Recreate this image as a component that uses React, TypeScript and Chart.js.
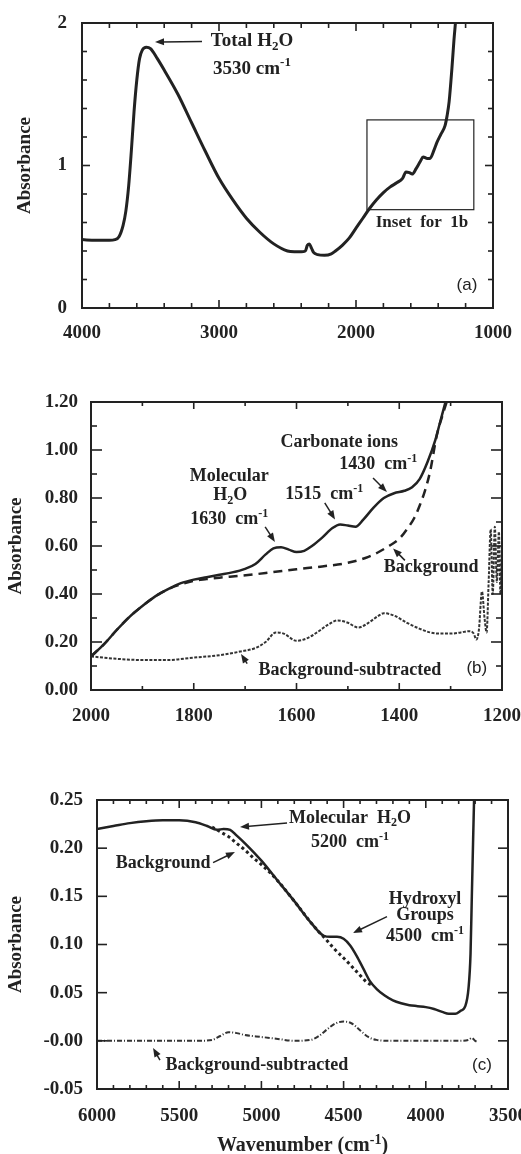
import React, { useEffect, useRef } from 'react';
import { Chart, registerables } from 'chart.js';

Chart.register(...registerables);

const SERIF = '"Liberation Serif", "Times New Roman", serif';
const SANS = '"Liberation Sans", Arial, sans-serif';
const INK = '#222222';

// ---------- Panel (a): full spectrum ----------
const aWavenumber = [4000, 3900, 3800, 3760, 3730, 3700, 3680, 3660, 3640, 3620, 3600, 3580, 3560, 3530, 3500, 3450, 3400, 3300, 3200, 3100, 3000, 2900, 2800, 2700, 2600, 2500, 2450, 2400, 2370, 2355, 2340, 2325, 2310, 2280, 2230, 2180, 2150, 2100, 2050, 2000, 1950, 1900, 1850, 1800, 1750, 1700, 1660, 1635, 1610, 1590, 1560, 1530, 1510, 1480, 1460, 1430, 1410, 1380, 1350, 1335, 1320, 1300, 1285, 1270, 1260];
const aAbsorbance = [0.48, 0.475, 0.475, 0.48, 0.50, 0.58, 0.68, 0.85, 1.10, 1.38, 1.60, 1.75, 1.81, 1.83, 1.82, 1.75, 1.67, 1.50, 1.30, 1.10, 0.91, 0.76, 0.63, 0.53, 0.45, 0.40, 0.395, 0.395, 0.40, 0.44, 0.45, 0.42, 0.39, 0.375, 0.37, 0.38, 0.40, 0.44, 0.49, 0.56, 0.63, 0.70, 0.76, 0.81, 0.85, 0.88, 0.91, 0.955, 0.95, 0.94, 0.98, 1.03, 1.06, 1.05, 1.05, 1.11, 1.16, 1.22, 1.28, 1.35, 1.45, 1.68, 1.88, 2.05, 2.2];
const aXTicks = [4000, 3000, 2000, 1000];
const aYTicks = [0, 1, 2];
const aYTickLabels = ['0', '1', '2'];

// ---------- Panel (b): 2000-1200 cm-1 inset ----------
const bWavenumber = [2000, 1975, 1950, 1925, 1900, 1875, 1850, 1825, 1800, 1775, 1750, 1725, 1700, 1680, 1660, 1645, 1630, 1615, 1600, 1585, 1570, 1550, 1530, 1515, 1500, 1485, 1470, 1450, 1430, 1410, 1390, 1375, 1360, 1345, 1330, 1320, 1310, 1300];
const bSample = [0.14, 0.19, 0.25, 0.305, 0.35, 0.39, 0.42, 0.445, 0.46, 0.47, 0.48, 0.49, 0.505, 0.525, 0.565, 0.59, 0.595, 0.585, 0.575, 0.58, 0.60, 0.635, 0.675, 0.69, 0.685, 0.68, 0.71, 0.76, 0.80, 0.82, 0.83, 0.845, 0.88, 0.95, 1.04, 1.12, 1.20, 1.28];
const bBackgroundWavenumber = [2000, 1975, 1950, 1925, 1900, 1875, 1850, 1825, 1800, 1775, 1750, 1720, 1690, 1650, 1600, 1550, 1500, 1460, 1440, 1420, 1400, 1385, 1370, 1360, 1350, 1340, 1327, 1315, 1305, 1298];
const bBackground = [0.14, 0.19, 0.25, 0.305, 0.35, 0.39, 0.42, 0.44, 0.455, 0.462, 0.468, 0.474, 0.48, 0.49, 0.503, 0.515, 0.53, 0.555, 0.575, 0.60, 0.63, 0.67, 0.72, 0.77, 0.83, 0.91, 1.06, 1.15, 1.22, 1.28];
const bSubtractedWavenumber = [2000, 1950, 1900, 1850, 1800, 1750, 1710, 1680, 1660, 1640, 1625, 1600, 1580, 1560, 1540, 1520, 1500, 1480, 1460, 1440, 1430, 1410, 1385, 1360, 1340, 1320, 1300, 1280, 1265, 1255, 1250, 1245, 1239, 1234, 1230, 1226, 1222, 1218, 1214, 1210, 1206, 1203, 1200];
const bSubtracted = [0.14, 0.13, 0.125, 0.125, 0.135, 0.145, 0.16, 0.175, 0.20, 0.24, 0.235, 0.205, 0.215, 0.24, 0.27, 0.29, 0.28, 0.26, 0.28, 0.31, 0.32, 0.31, 0.28, 0.255, 0.24, 0.235, 0.235, 0.24, 0.245, 0.235, 0.21, 0.25, 0.41, 0.30, 0.24, 0.45, 0.67, 0.40, 0.68, 0.45, 0.66, 0.40, 0.60];
const bXTicks = [2000, 1800, 1600, 1400, 1200];
const bYTicks = [0, 0.2, 0.4, 0.6, 0.8, 1.0, 1.2];
const bYTickLabels = ['0.00', '0.20', '0.40', '0.60', '0.80', '1.00', '1.20'];

// ---------- Panel (c): near-IR ----------
const cWavenumber = [6000, 5900, 5800, 5700, 5600, 5500, 5400, 5330, 5270, 5230, 5190, 5150, 5100, 5000, 4900, 4800, 4700, 4620, 4580, 4540, 4500, 4460, 4420, 4380, 4340, 4300, 4250, 4200, 4150, 4100, 4050, 4000, 3950, 3900, 3860, 3820, 3790, 3760, 3740, 3728, 3720, 3712, 3705];
const cSample = [0.22, 0.223, 0.226, 0.228, 0.229, 0.229, 0.227, 0.223, 0.219, 0.220, 0.219, 0.213, 0.205, 0.187, 0.166, 0.145, 0.123, 0.109, 0.108, 0.108, 0.106, 0.099, 0.088, 0.075, 0.062, 0.054, 0.047, 0.042, 0.039, 0.037, 0.036, 0.035, 0.033, 0.030, 0.028, 0.028, 0.031, 0.036, 0.055, 0.09, 0.15, 0.21, 0.26];
const cBackgroundWavenumber = [5300, 5250, 5200, 5150, 5100, 5050, 5000, 4950, 4900, 4800, 4700, 4650, 4600, 4560, 4500, 4460, 4400, 4360, 4320];
const cBackground = [0.222, 0.217, 0.212, 0.205, 0.198, 0.190, 0.183, 0.175, 0.166, 0.145, 0.123, 0.113, 0.104, 0.096, 0.086, 0.079, 0.068, 0.061, 0.057];
const cSubtractedWavenumber = [6000, 5800, 5600, 5400, 5300, 5250, 5200, 5150, 5100, 5000, 4900, 4800, 4700, 4650, 4600, 4550, 4500, 4450, 4400, 4350, 4300, 4200, 4000, 3800, 3740, 3720, 3700, 3680];
const cSubtracted = [0, 0, 0, 0, 0.001, 0.005, 0.009, 0.008, 0.006, 0.004, 0.002, 0.0, 0.001, 0.005, 0.012, 0.018, 0.020, 0.018, 0.011, 0.004, 0.001, 0, 0, 0, 0.001, 0.003, 0, -0.001];
const cXTicks = [6000, 5500, 5000, 4500, 4000, 3500];
const cYTicks = [-0.05, 0, 0.05, 0.1, 0.15, 0.2, 0.25];
const cYTickLabels = ['-0.05', '-0.00', '0.05', '0.10', '0.15', '0.20', '0.25'];

type Part = [string, 'n' | 'sub' | 'sup'];
type Note = { x: number; y: number; parts: Part[]; size: number; sans?: boolean };
type Arrow = [number, number, number, number];
type Series = { xs: number[]; ys: number[]; width: number; dash?: number[]; color?: string };
type TickSpec = { minor: number; minorLen: number; major: number; majorLen: number };
type PanelSpec = {
  height: number;
  area: { left: number; right: number; top: number; bottom: number };
  xMin: number; xMax: number; xTicks: number[]; xPad: number;
  yMin: number; yMax: number; yTicks: number[]; yLabels: string[]; yPad: number; yTitlePad: number;
  series: Series[];
  xTickMarks: TickSpec; yTickMarks: TickSpec;
  notes: Note[]; arrows: Arrow[];
  box?: [number, number, number, number];
  xTitle?: Part[];
};

function drawParts(ctx: CanvasRenderingContext2D, parts: Part[], x: number, y: number, size: number, sans?: boolean) {
  const family = sans ? SANS : SERIF;
  const weight = sans ? 'normal' : 'bold';
  const fontFor = (m: string) => `${weight} ${m === 'n' ? size : Math.round(size * 0.68)}px ${family}`;
  let total = 0;
  const widths = parts.map(([t, m]) => {
    ctx.font = fontFor(m);
    const w = ctx.measureText(t).width;
    total += w;
    return w;
  });
  let cx = x - total / 2;
  ctx.textBaseline = 'middle';
  ctx.textAlign = 'left';
  parts.forEach(([t, m], i) => {
    ctx.font = fontFor(m);
    const dy = m === 'sub' ? size * 0.28 : m === 'sup' ? -size * 0.3 : 0;
    ctx.fillText(t, cx, y + dy);
    cx += widths[i];
  });
}

function drawArrow(ctx: CanvasRenderingContext2D, x1: number, y1: number, x2: number, y2: number) {
  const a = Math.atan2(y2 - y1, x2 - x1);
  const L = 9;
  const W = 3.5;
  const c = Math.cos(a);
  const s = Math.sin(a);
  ctx.beginPath();
  ctx.moveTo(x1, y1);
  ctx.lineTo(x2 - c * L * 0.7, y2 - s * L * 0.7);
  ctx.stroke();
  ctx.beginPath();
  ctx.moveTo(x2, y2);
  ctx.lineTo(x2 - L * c + W * s, y2 - L * s - W * c);
  ctx.lineTo(x2 - L * c - W * s, y2 - L * s + W * c);
  ctx.closePath();
  ctx.fill();
}

function overlay(spec: PanelSpec) {
  return {
    id: 'overlay',
    afterDatasetsDraw(chart: any) {
      const ctx: CanvasRenderingContext2D = chart.ctx;
      const { left, right, top, bottom } = chart.chartArea;
      const xs = chart.scales.x;
      const ys = chart.scales.y;
      ctx.save();
      ctx.strokeStyle = INK;
      ctx.fillStyle = INK;
      ctx.setLineDash([]);
      ctx.lineWidth = 1.6;
      const line = (x1: number, y1: number, x2: number, y2: number) => {
        ctx.beginPath();
        ctx.moveTo(x1, y1);
        ctx.lineTo(x2, y2);
        ctx.stroke();
      };
      const isMajor = (v: number, step: number) => Math.abs(v / step - Math.round(v / step)) < 1e-6;
      const xt = spec.xTickMarks;
      const nx = Math.round((spec.xMax - spec.xMin) / xt.minor);
      for (let i = 0; i <= nx; i++) {
        const v = spec.xMin + i * xt.minor;
        const len = isMajor(v, xt.major) ? xt.majorLen : xt.minorLen;
        const px = xs.getPixelForValue(v);
        line(px, bottom, px, bottom - len);
        line(px, top, px, top + len);
      }
      const yt = spec.yTickMarks;
      const ny = Math.round((spec.yMax - spec.yMin) / yt.minor);
      for (let i = 0; i <= ny; i++) {
        const v = spec.yMin + i * yt.minor;
        const len = isMajor(v, yt.major) ? yt.majorLen : yt.minorLen;
        const py = ys.getPixelForValue(v);
        line(left, py, left + len, py);
        line(right, py, right - len, py);
      }
      ctx.lineWidth = 2;
      ctx.strokeRect(left, top, right - left, bottom - top);
      if (spec.box) {
        const [x1, x2, y1, y2] = spec.box;
        const px1 = xs.getPixelForValue(x1);
        const px2 = xs.getPixelForValue(x2);
        const py1 = ys.getPixelForValue(y1);
        const py2 = ys.getPixelForValue(y2);
        ctx.lineWidth = 1.2;
        ctx.strokeRect(px1, py2, px2 - px1, py1 - py2);
      }
      ctx.lineWidth = 1.5;
      spec.arrows.forEach(([x1, y1, x2, y2]) => {
        drawArrow(ctx, xs.getPixelForValue(x1), ys.getPixelForValue(y1), xs.getPixelForValue(x2), ys.getPixelForValue(y2));
      });
      spec.notes.forEach((n) => {
        drawParts(ctx, n.parts, xs.getPixelForValue(n.x), ys.getPixelForValue(n.y), n.size, n.sans);
      });
      if (spec.xTitle) {
        drawParts(ctx, spec.xTitle, (left + right) / 2, chart.height - 8, 20);
      }
      ctx.restore();
    },
  };
}

function buildConfig(spec: PanelSpec): any {
  const W = 521;
  return {
    type: 'line',
    data: {
      datasets: spec.series.map((s) => ({
        data: s.xs.map((x, i) => ({ x, y: s.ys[i] })),
        borderColor: s.color || INK,
        borderWidth: s.width,
        borderDash: s.dash || [],
        pointRadius: 0,
        fill: false,
        cubicInterpolationMode: 'monotone',
      })),
    },
    options: {
      responsive: false,
      animation: false,
      devicePixelRatio: 1,
      events: [],
      layout: { padding: { left: 0, right: W - spec.area.right, top: spec.area.top, bottom: 0 } },
      plugins: { legend: { display: false }, tooltip: { enabled: false } },
      scales: {
        x: {
          type: 'linear',
          min: spec.xMin,
          max: spec.xMax,
          reverse: true,
          grid: { display: false, drawTicks: false },
          border: { display: false },
          afterBuildTicks: (s: any) => {
            s.ticks = spec.xTicks.map((v) => ({ value: v }));
          },
          ticks: {
            autoSkip: false,
            maxRotation: 0,
            padding: spec.xPad,
            color: INK,
            font: { family: SERIF, size: 19, weight: 'bold' },
            callback: (v: any) => String(v),
          },
          afterFit: (s: any) => {
            s.height = spec.height - spec.area.bottom;
            s.paddingLeft = 0;
            s.paddingRight = 0;
          },
        },
        y: {
          type: 'linear',
          min: spec.yMin,
          max: spec.yMax,
          grid: { display: false, drawTicks: false },
          border: { display: false },
          afterBuildTicks: (s: any) => {
            s.ticks = spec.yTicks.map((v) => ({ value: v }));
          },
          ticks: {
            autoSkip: false,
            padding: spec.yPad,
            color: INK,
            font: { family: SERIF, size: 19, weight: 'bold' },
            callback: (_v: any, i: number) => spec.yLabels[i],
          },
          title: {
            display: true,
            text: 'Absorbance',
            color: INK,
            font: { family: SERIF, size: 19, weight: 'bold' },
            padding: { top: spec.yTitlePad, bottom: 0 },
          },
          afterFit: (s: any) => {
            s.width = spec.area.left;
            s.paddingTop = 0;
            s.paddingBottom = 0;
          },
        },
      },
    },
    plugins: [overlay(spec)],
  };
}

const cm: Part[] = [['cm', 'n'], ['-1', 'sup']];

const panelA: PanelSpec = {
  height: 360,
  area: { left: 82, right: 493, top: 23, bottom: 308 },
  xMin: 1000, xMax: 4000, xTicks: aXTicks, xPad: 14,
  yMin: 0, yMax: 2, yTicks: aYTicks, yLabels: aYTickLabels, yPad: 15, yTitlePad: 14,
  series: [{ xs: aWavenumber, ys: aAbsorbance, width: 3 }],
  xTickMarks: { minor: 200, minorLen: 5, major: 1000, majorLen: 8 },
  yTickMarks: { minor: 0.2, minorLen: 5, major: 1, majorLen: 8 },
  notes: [
    { x: 2759, y: 1.87, parts: [['Total H', 'n'], ['2', 'sub'], ['O', 'n']], size: 19 },
    { x: 2759, y: 1.68, parts: [['3530 ', 'n'], ...cm], size: 19 },
    { x: 1518, y: 0.6, parts: [['Inset  for  1b', 'n']], size: 17 },
    { x: 1190, y: 0.16, parts: [['(a)', 'n']], size: 17, sans: true },
  ],
  arrows: [[3124, 1.87, 3467, 1.867]],
  box: [1920, 1140, 0.69, 1.32],
};

const panelB: PanelSpec = {
  height: 360,
  area: { left: 91, right: 502, top: 32, bottom: 320 },
  xMin: 1200, xMax: 2000, xTicks: bXTicks, xPad: 15,
  yMin: 0, yMax: 1.2, yTicks: bYTicks, yLabels: bYTickLabels, yPad: 13, yTitlePad: 5,
  series: [
    { xs: bWavenumber, ys: bSample, width: 2.5 },
    { xs: bBackgroundWavenumber, ys: bBackground, width: 2.5, dash: [9, 6] },
    { xs: bSubtractedWavenumber, ys: bSubtracted, width: 2, dash: [3, 1.5], color: '#333' },
  ],
  xTickMarks: { minor: 100, minorLen: 4, major: 200, majorLen: 7 },
  yTickMarks: { minor: 0.1, minorLen: 6, major: 0.2, majorLen: 11 },
  notes: [
    { x: 1517, y: 1.03, parts: [['Carbonate ions', 'n']], size: 18 },
    { x: 1441, y: 0.94, parts: [['1430  ', 'n'], ...cm], size: 18 },
    { x: 1731, y: 0.89, parts: [['Molecular', 'n']], size: 18 },
    { x: 1729, y: 0.81, parts: [['H', 'n'], ['2', 'sub'], ['O', 'n']], size: 18 },
    { x: 1546, y: 0.815, parts: [['1515  ', 'n'], ...cm], size: 18 },
    { x: 1731, y: 0.71, parts: [['1630  ', 'n'], ...cm], size: 18 },
    { x: 1338, y: 0.51, parts: [['Background', 'n']], size: 18 },
    { x: 1496, y: 0.083, parts: [['Background-subtracted', 'n']], size: 18 },
    { x: 1249, y: 0.09, parts: [['(b)', 'n']], size: 17, sans: true },
  ],
  arrows: [
    [1661, 0.68, 1642, 0.617],
    [1545, 0.78, 1525, 0.71],
    [1451, 0.883, 1424, 0.825],
    [1389, 0.54, 1412, 0.59],
    [1696, 0.11, 1708, 0.15],
  ],
};

const panelC: PanelSpec = {
  height: 394,
  area: { left: 97, right: 508, top: 40, bottom: 329 },
  xMin: 3500, xMax: 6000, xTicks: cXTicks, xPad: 16,
  yMin: -0.05, yMax: 0.25, yTicks: cYTicks, yLabels: cYTickLabels, yPad: 14, yTitlePad: 5,
  series: [
    { xs: cWavenumber, ys: cSample, width: 2.5 },
    { xs: cBackgroundWavenumber, ys: cBackground, width: 3, dash: [3, 3] },
    { xs: cSubtractedWavenumber, ys: cSubtracted, width: 2, dash: [5, 2, 1, 2], color: '#333' },
  ],
  xTickMarks: { minor: 100, minorLen: 4, major: 500, majorLen: 8 },
  yTickMarks: { minor: 0.05, minorLen: 10, major: 0.05, majorLen: 10 },
  notes: [
    { x: 4461, y: 0.231, parts: [['Molecular  H', 'n'], ['2', 'sub'], ['O', 'n']], size: 18 },
    { x: 4461, y: 0.206, parts: [['5200  ', 'n'], ...cm], size: 18 },
    { x: 5598, y: 0.184, parts: [['Background', 'n']], size: 18 },
    { x: 4005, y: 0.147, parts: [['Hydroxyl', 'n']], size: 18 },
    { x: 4005, y: 0.13, parts: [['Groups', 'n']], size: 18 },
    { x: 4005, y: 0.108, parts: [['4500  ', 'n'], ...cm], size: 18 },
    { x: 5027, y: -0.025, parts: [['Background-subtracted', 'n']], size: 18 },
    { x: 3658, y: -0.025, parts: [['(c)', 'n']], size: 17, sans: true },
  ],
  arrows: [
    [4844, 0.226, 5130, 0.222],
    [5294, 0.185, 5161, 0.196],
    [4236, 0.129, 4443, 0.112],
    [5617, -0.02, 5659, -0.0075],
  ],
  xTitle: [['Wavenumber (', 'n'], ...cm, [')', 'n']],
};

function Panel({ spec, top }: { spec: PanelSpec; top: number }) {
  const ref = useRef<HTMLCanvasElement>(null);
  useEffect(() => {
    if (!ref.current) return;
    const chart = new Chart(ref.current, buildConfig(spec));
    return () => chart.destroy();
  }, [spec]);
  return (
    <canvas
      ref={ref}
      width={521}
      height={spec.height}
      style={{ position: 'absolute', left: 0, top, width: 521, height: spec.height, display: 'block' }}
    />
  );
}

export default function App() {
  return (
    <div style={{ position: 'fixed', left: 0, top: 0, width: 521, height: 1154, background: '#ffffff', overflow: 'hidden' }}>
      <Panel spec={panelA} top={0} />
      <Panel spec={panelB} top={370} />
      <Panel spec={panelC} top={760} />
    </div>
  );
}
